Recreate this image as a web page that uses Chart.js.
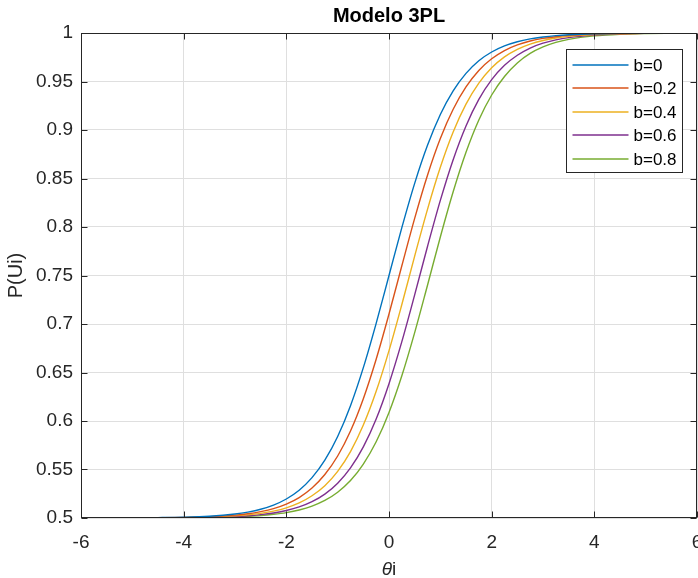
<!DOCTYPE html>
<html>
<head>
<meta charset="utf-8">
<script src="https://cdn.jsdelivr.net/npm/chart.js@4.4.1/dist/chart.umd.min.js"></script>
<style>
  body { margin: 0; background: #fff; }
</style>
</head>
<body>
<canvas id="myChart" width="698" height="578"></canvas>
<script>
var theta = [-6, -5.5, -5, -4.5, -4, -3.5, -3, -2.75, -2.5, -2.25, -2, -1.75, -1.5, -1.25, -1, -0.75, -0.5, -0.25,
             0, 0.25, 0.5, 0.75, 1, 1.25, 1.5, 1.75, 2, 2.25, 2.5, 2.75, 3, 3.25, 3.5, 4, 4.5, 5, 5.5, 6];

var pB0  = [0.5000, 0.5001, 0.5002, 0.5004, 0.5008, 0.5018, 0.5041, 0.5061, 0.5090, 0.5133, 0.5196, 0.5286, 0.5416, 0.5596, 0.5840, 0.6158, 0.6550, 0.7007,
            0.7500, 0.7993, 0.8450, 0.8842, 0.9160, 0.9404, 0.9584, 0.9714, 0.9804, 0.9867, 0.9910, 0.9939, 0.9959, 0.9973, 0.9982, 0.9992, 0.9996, 0.9998, 0.9999, 1.0000];
var pB02 = [0.5000, 0.5001, 0.5001, 0.5003, 0.5006, 0.5013, 0.5030, 0.5044, 0.5066, 0.5097, 0.5144, 0.5211, 0.5309, 0.5448, 0.5639, 0.5897, 0.6230, 0.6637,
            0.7103, 0.7600, 0.8089, 0.8534, 0.8912, 0.9214, 0.9444, 0.9614, 0.9734, 0.9819, 0.9877, 0.9917, 0.9944, 0.9962, 0.9975, 0.9989, 0.9995, 0.9998, 0.9999, 1.0000];
var pB04 = [0.5000, 0.5000, 0.5001, 0.5002, 0.5004, 0.5010, 0.5022, 0.5032, 0.5048, 0.5071, 0.5105, 0.5155, 0.5229, 0.5333, 0.5481, 0.5685, 0.5958, 0.6306,
            0.6726, 0.7201, 0.7700, 0.8182, 0.8615, 0.8979, 0.9266, 0.9483, 0.9641, 0.9754, 0.9832, 0.9886, 0.9923, 0.9948, 0.9965, 0.9984, 0.9993, 0.9997, 0.9999, 0.9999];
var pB06 = [0.5000, 0.5000, 0.5001, 0.5001, 0.5003, 0.5007, 0.5016, 0.5023, 0.5035, 0.5052, 0.5077, 0.5114, 0.5168, 0.5246, 0.5359, 0.5517, 0.5734, 0.6021,
            0.6385, 0.6818, 0.7300, 0.7799, 0.8274, 0.8694, 0.9042, 0.9315, 0.9519, 0.9667, 0.9771, 0.9845, 0.9895, 0.9929, 0.9952, 0.9978, 0.9990, 0.9996, 0.9998, 0.9999];
var pB08 = [0.5000, 0.5000, 0.5000, 0.5001, 0.5002, 0.5005, 0.5011, 0.5017, 0.5025, 0.5038, 0.5056, 0.5083, 0.5123, 0.5181, 0.5266, 0.5386, 0.5556, 0.5786,
            0.6088, 0.6466, 0.6911, 0.7400, 0.7897, 0.8363, 0.8770, 0.9103, 0.9361, 0.9552, 0.9691, 0.9789, 0.9856, 0.9903, 0.9934, 0.9970, 0.9987, 0.9994, 0.9997, 0.9999];

var bLabels = ["b=0", "b=0.2", "b=0.4", "b=0.6", "b=0.8"];
var colors = ["#0072BD", "#D95319", "#EDB120", "#7E2F8E", "#77AC30"];
var series = [pB0, pB02, pB04, pB06, pB08];

var thetaTicks = [-6, -4, -2, 0, 2, 4, 6];
var pTicks = [0.5, 0.55, 0.6, 0.65, 0.7, 0.75, 0.8, 0.85, 0.9, 0.95, 1];

var FONT = "'Liberation Sans', Arial, Helvetica, sans-serif";
var AXIS_COLOR = "#262626";

var datasets = series.map(function (vals, i) {
    return {
        label: bLabels[i],
        data: theta.map(function (t, j) { return { x: t, y: vals[j] }; }),
        borderColor: colors[i],
        backgroundColor: colors[i],
        borderWidth: 1.4,
        pointRadius: 0,
        fill: false,
        cubicInterpolationMode: 'monotone'
    };
});

// caja, marcas de los ejes, etiqueta del eje x y leyenda al estilo MATLAB
var matlabBox = {
    id: 'matlabBox',
    afterDraw: function (chart) {
        var a = chart.chartArea, ctx = chart.ctx;
        var xs = chart.scales.x, ys = chart.scales.y;
        var L = Math.round(a.left) + 0.5, R = Math.round(a.right) - 0.5;
        var T = Math.round(a.top) + 0.5, B = Math.round(a.bottom) - 0.5;
        ctx.save();
        ctx.strokeStyle = AXIS_COLOR;
        ctx.lineWidth = 1;
        ctx.strokeRect(L, T, R - L, B - T);
        ctx.beginPath();
        thetaTicks.forEach(function (v) {
            var x = Math.round(xs.getPixelForValue(v)) + 0.5;
            ctx.moveTo(x, B); ctx.lineTo(x, B - 6);
            ctx.moveTo(x, T); ctx.lineTo(x, T + 6);
        });
        pTicks.forEach(function (v) {
            var y = Math.round(ys.getPixelForValue(v)) + 0.5;
            ctx.moveTo(L, y); ctx.lineTo(L + 6, y);
            ctx.moveTo(R, y); ctx.lineTo(R - 6, y);
        });
        ctx.stroke();

        // etiqueta x: theta en cursiva + i
        var cx = (a.left + a.right) / 2, ty = 570;
        ctx.fillStyle = AXIS_COLOR;
        ctx.textBaseline = 'middle';
        ctx.font = "italic 19px " + FONT;
        var w1 = ctx.measureText("θ").width;
        ctx.font = "19px " + FONT;
        var w2 = ctx.measureText("i").width;
        var x0 = cx - (w1 + w2) / 2;
        ctx.textAlign = 'left';
        ctx.font = "italic 19px " + FONT;
        ctx.fillText("θ", x0, ty);
        ctx.font = "19px " + FONT;
        ctx.fillText("i", x0 + w1, ty);

        // leyenda
        var bw = 116, bh = 123;
        var bx = Math.round(a.right - 15 - bw) + 0.5, by = Math.round(a.top + 16) + 0.5;
        ctx.fillStyle = "#fff";
        ctx.fillRect(bx, by, bw, bh);
        ctx.strokeStyle = AXIS_COLOR;
        ctx.strokeRect(bx, by, bw, bh);
        ctx.font = "17px " + FONT;
        chart.data.datasets.forEach(function (ds, i) {
            var ry = Math.round(by + 15 + i * 23.5);
            ctx.strokeStyle = ds.borderColor;
            ctx.lineWidth = 1.4;
            ctx.beginPath();
            ctx.moveTo(bx + 6, ry); ctx.lineTo(bx + 62, ry);
            ctx.stroke();
            ctx.fillStyle = "#000";
            ctx.fillText(ds.label, bx + 67, ry + 1);
        });
        ctx.restore();
    }
};

var ctx = document.getElementById("myChart");
var myChart = new Chart(ctx, {
    type: 'line',
    data: { datasets: datasets },
    options: {
        responsive: false,
        animation: false,
        layout: { padding: { left: 0, right: 1, top: 0, bottom: 0 } },
        plugins: {
            legend: { display: false },
            tooltip: { enabled: false },
            title: {
                display: true,
                text: 'Modelo 3PL',
                fullSize: false,
                color: '#000',
                font: { family: FONT, size: 20, weight: 'bold' },
                padding: { top: 4, bottom: 5 }
            }
        },
        scales: {
            x: {
                type: 'linear',
                min: -6,
                max: 6,
                afterBuildTicks: function (scale) {
                    scale.ticks = thetaTicks.map(function (v) { return { value: v }; });
                },
                afterFit: function (scale) {
                    scale.height = 60;
                    scale.paddingLeft = 0;
                    scale.paddingRight = 0;
                },
                grid: { color: '#dfdfdf', drawTicks: false },
                border: { display: false },
                ticks: {
                    color: AXIS_COLOR,
                    padding: 13,
                    maxRotation: 0,
                    autoSkip: false,
                    font: { family: FONT, size: 19 },
                    callback: function (v) { return String(v); }
                }
            },
            y: {
                type: 'linear',
                min: 0.5,
                max: 1,
                afterBuildTicks: function (scale) {
                    scale.ticks = pTicks.map(function (v) { return { value: v }; });
                },
                afterFit: function (scale) {
                    scale.width = 81;
                    scale.paddingTop = 0;
                    scale.paddingBottom = 0;
                },
                grid: { color: '#dfdfdf', drawTicks: false },
                border: { display: false },
                title: {
                    display: true,
                    text: 'P(Ui)',
                    color: AXIS_COLOR,
                    font: { family: FONT, size: 20 },
                    padding: { top: 4, bottom: 0 }
                },
                ticks: {
                    color: AXIS_COLOR,
                    padding: 8,
                    autoSkip: false,
                    font: { family: FONT, size: 19 },
                    callback: function (v) { return String(v); }
                }
            }
        }
    },
    plugins: [matlabBox]
});
</script>
</body>
</html>
